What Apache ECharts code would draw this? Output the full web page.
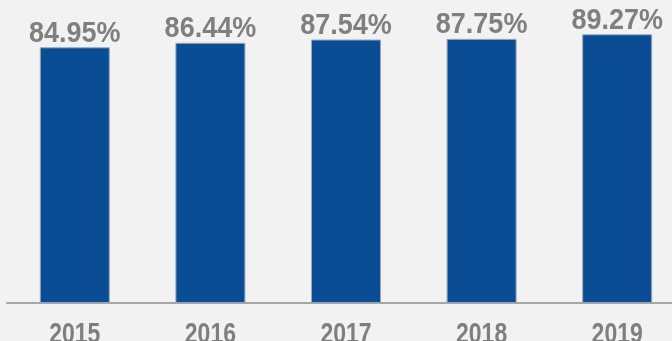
<!DOCTYPE html>
<html><head><meta charset="utf-8">
<script src="https://cdn.jsdelivr.net/npm/echarts@6/dist/echarts.min.js"></script>
<style>html,body{margin:0;padding:0;background:#f2f2f2}#c{width:672px;height:341px}</style>
</head><body><div id="c"></div>
<script>
const years = ['2015','2016','2017','2018','2019'];
const rates = [84.95, 86.44, 87.54, 87.75, 89.27];
const FONT = '"Liberation Sans",Arial,sans-serif';
const GRAY = '#7f7f7f';
const chart = echarts.init(document.getElementById('c'));
function textItem(pt, txt, size, sy, vAlign, dy) {
  return {
    type: 'text', x: pt[0], y: pt[1] + dy, scaleY: sy,
    style: {text: txt, x: 0, y: 0, fill: GRAY, align: 'center', verticalAlign: vAlign,
      font: 'bold ' + size + 'px ' + FONT}
  };
}
chart.setOption({
  backgroundColor: '#f2f2f2',
  animation: false,
  grid: {left: 7, right: -13, top: 2, bottom: 38, outerBoundsMode: 'none'},
  xAxis: {
    type: 'category', data: years,
    axisLine: {lineStyle: {color: '#a6a6a6', width: 2}},
    axisTick: {show: false},
    axisLabel: {show: false}
  },
  yAxis: {type: 'value', min: 0, max: 100, show: false, splitLine: {show: false}},
  series: [{
    type: 'bar', data: rates, barWidth: 70,
    itemStyle: {color: '#0b4d94', borderColor: '#9aa7b8', borderWidth: 1}
  }, {
    type: 'custom', data: years.map((y, i) => [y, rates[i]]),
    renderItem: (params, api) => {
      const pt = api.coord([api.value(0), api.value(1)]);
      return textItem(pt, rates[params.dataIndex].toFixed(2) + '%', 27, 1.09, 'bottom', 1);
    }
  }, {
    type: 'custom', data: years.map(y => [y, 0]),
    renderItem: (params, api) => {
      const pt = api.coord([api.value(0), 0]);
      return textItem(pt, years[params.dataIndex], 23, 1.3, 'top', 17);
    }
  }]
});
</script></body></html>
